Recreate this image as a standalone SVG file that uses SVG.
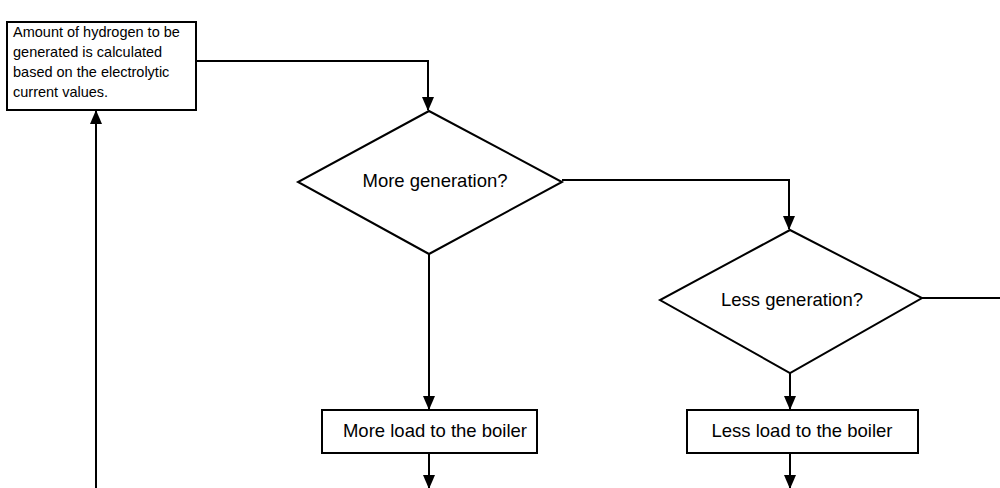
<svg xmlns="http://www.w3.org/2000/svg" width="1000" height="488" viewBox="0 0 1000 488">
<defs>
<style>
.shape{fill:#fff;stroke:#000;stroke-width:2}
.conn{fill:none;stroke:#000;stroke-width:2}
.t{font-family:"Liberation Sans",Arial,sans-serif;fill:#000}
</style>
<marker id="ah" markerWidth="14" markerHeight="14" refX="13" refY="7" orient="auto" markerUnits="userSpaceOnUse">
<path d="M0,1 L14,7 L0,13 Z" fill="#000"/>
</marker>
</defs>
<rect width="1000" height="488" fill="#fff"/>
<g id="connectors">
<polyline class="conn" points="196,61 428,61 428,110" marker-end="url(#ah)"/>
<polyline class="conn" points="562,180 789,180 789,229" marker-end="url(#ah)"/>
<line class="conn" x1="922" y1="298" x2="1000" y2="298"/>
<line class="conn" x1="429" y1="254" x2="429" y2="409" marker-end="url(#ah)"/>
<line class="conn" x1="790" y1="373" x2="790" y2="409" marker-end="url(#ah)"/>
<line class="conn" x1="429" y1="453" x2="429" y2="488" marker-end="url(#ah)"/>
<line class="conn" x1="790" y1="453" x2="790" y2="488" marker-end="url(#ah)"/>
<line class="conn" x1="96" y1="488" x2="96" y2="111" marker-end="url(#ah)"/>
</g>
<g id="calc">
<rect class="shape" x="7" y="22" width="189" height="88"/>
<text class="t" font-size="14.5" x="13" y="37">Amount of hydrogen to be</text>
<text class="t" font-size="14.5" x="13" y="57">generated is calculated</text>
<text class="t" font-size="14.5" x="13" y="77">based on the electrolytic</text>
<text class="t" font-size="14.5" x="13" y="97">current values.</text>
</g>
<g id="more-gen">
<polygon class="shape" points="429,111 562,182 429,254 298,182"/>
<text class="t" font-size="18.5" x="435" y="187" text-anchor="middle">More generation?</text>
</g>
<g id="less-gen">
<polygon class="shape" points="790,230 922,298 790,373 660,300"/>
<text class="t" font-size="18.5" x="792" y="306" text-anchor="middle">Less generation?</text>
</g>
<g id="more-load">
<rect class="shape" x="322" y="410" width="215" height="43"/>
<text class="t" font-size="18.5" x="435" y="437" text-anchor="middle">More load to the boiler</text>
</g>
<g id="less-load">
<rect class="shape" x="687" y="410" width="231" height="43"/>
<text class="t" font-size="18.5" x="802" y="437" text-anchor="middle">Less load to the boiler</text>
</g>
</svg>
